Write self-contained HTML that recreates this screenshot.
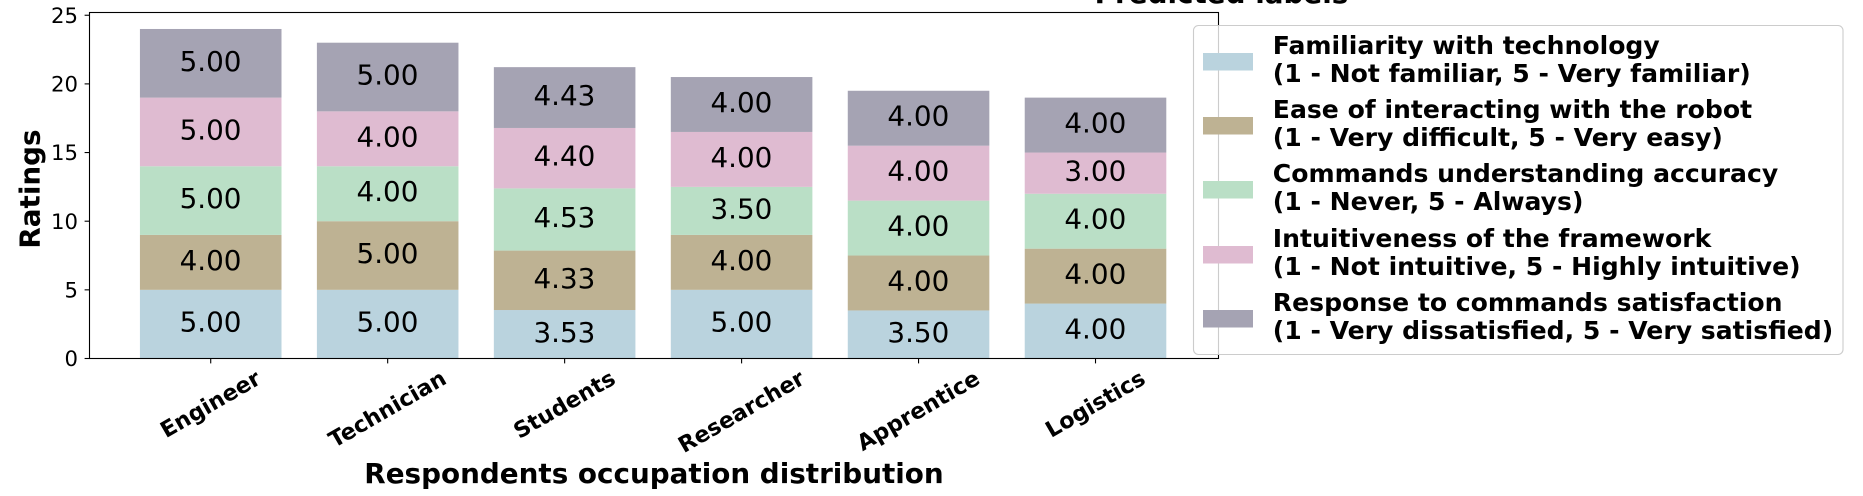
<!DOCTYPE html>
<html>
<head>
<meta charset="utf-8">
<style>
html,body{margin:0;padding:0;background:#fff;width:1863px;height:496px;overflow:hidden}
svg{display:block}
text{font-family:"DejaVu Sans","Liberation Sans",sans-serif;fill:#000}
.b{font-weight:bold}
</style>
</head>
<body>
<svg id="chart" xmlns="http://www.w3.org/2000/svg" width="1863" height="496" viewBox="0 0 1863 496"></svg>
<script>
const categories = ['Engineer','Technician','Students','Researcher','Apprentice','Logistics'];
const familiarity = [5, 5, 3.53, 5, 3.5, 4];
const ease = [4, 5, 4.33, 4, 4, 4];
const accuracy = [5, 4, 4.53, 3.5, 4, 4];
const intuitiveness = [5, 4, 4.4, 4, 4, 3];
const satisfaction = [5, 5, 4.43, 4, 4, 4];
const yTicks = [0, 5, 10, 15, 20, 25];
const seriesNames = ['familiarity','ease','accuracy','intuitiveness','satisfaction'];
const seriesColors = ['#bad3de','#beb293','#badfc6','#dfbbd1','#a5a3b3'];
const legendLine1 = ['Familiarity with technology','Ease of interacting with the robot','Commands understanding accuracy','Intuitiveness of the framework','Response to commands satisfaction'];
const legendLine2 = ['(1 - Not familiar, 5 - Very familiar)','(1 - Very difficult, 5 - Very easy)','(1 - Never, 5 - Always)','(1 - Not intuitive, 5 - Highly intuitive)','(1 - Very dissatisfied, 5 - Very satisfied)'];
const allSeries = [familiarity, ease, accuracy, intuitiveness, satisfaction];

const svg = document.getElementById('chart');
const NS = 'http://www.w3.org/2000/svg';
const axL = 89.5, axR = 1218.5, axT = 12.5, axB = 358.5;
const xMin = -0.685, xMax = categories.length - 1 + 0.695, yMin = 0, yMax = 25.2;
const xScale = v => axL + (v - xMin) / (xMax - xMin) * (axR - axL);
const yScale = v => axB - (v - yMin) / (yMax - yMin) * (axB - axT);
const bandWidth = xScale(0.8) - xScale(0);

function mk(tag, attrs, text) {
  const e = document.createElementNS(NS, tag);
  for (const k in attrs) e.setAttribute(k, attrs[k]);
  if (text !== undefined) e.textContent = text;
  svg.appendChild(e);
  return e;
}

// bars and value labels
const running = categories.map(() => 0);
allSeries.forEach((vals, s) => {
  vals.forEach((v, i) => {
    const y0 = yScale(running[i]), y1 = yScale(running[i] + v);
    const bar = mk('rect', {x: xScale(i) - bandWidth / 2, y: y1, width: bandWidth, height: y0 - y1, fill: seriesColors[s]});
    
    
    const lab = mk('text', {x: xScale(i) - 0.2, y: (y0 + y1) / 2 + 7.5, 'font-size': 27.8, 'text-anchor': 'middle'}, v.toFixed(2));
    
    
    running[i] += v;
  });
});

// axes frame
const frame = mk('rect', {x: axL, y: axT, width: axR - axL, height: axB - axT, fill: 'none', stroke: '#000', 'stroke-width': 1.1});



// y ticks
yTicks.forEach(t => {
  const y = yScale(t);
  const tk = mk('line', {x1: axL - 4.9, x2: axL, y1: y, y2: y, stroke: '#000', 'stroke-width': 1.1});
  
  
  const lb = mk('text', {x: 78, y: y + 7.6, 'font-size': 21.2, 'text-anchor': 'end'}, String(t));
  
  
});

// x ticks and rotated labels
categories.forEach((c, i) => {
  const x = xScale(i);
  const tk = mk('line', {x1: x, x2: x, y1: axB, y2: axB + 4.9, stroke: '#000', 'stroke-width': 1.1});
  
  
  const lb = mk('text', {x: 0, y: 0, class: 'b', 'font-size': 22.2, 'text-anchor': 'middle'}, c);
  
  
  const len = lb.getComputedTextLength();
  const cy = 367.6 + (len * 0.5 + 21 * 0.866) / 2;
  lb.setAttribute('transform', 'translate(' + x + ',' + cy + ') rotate(-30) translate(0,7)');
});

// axis titles
const xt = mk('text', {x: 654, y: 483, class: 'b', 'font-size': 27.8, 'text-anchor': 'middle'}, 'Respondents occupation distribution');


const yt = mk('text', {x: 0, y: 0, class: 'b', 'font-size': 27.8, 'text-anchor': 'middle', transform: 'translate(39.5,189) rotate(-90)'}, 'Ratings');



// legend
const lgTitle = mk('text', {x: 1221.5, y: 3, class: 'b', 'font-size': 27.8, 'text-anchor': 'middle'}, 'Predicted labels');


const lgBox = mk('rect', {x: 1193.5, y: 25.5, width: 649.5, height: 329, rx: 5, ry: 5, fill: '#fff', 'fill-opacity': 0.8, stroke: '#ccc', 'stroke-width': 1.1});


const lgPatchY = [53, 117, 181, 246, 310];
seriesNames.forEach((n, s) => {
  const p = mk('rect', {x: 1203, y: lgPatchY[s], width: 50, height: 17.5, fill: seriesColors[s]});
  
  
  const base = lgPatchY[s] + 1;
  const a = mk('text', {x: 1272.8, y: base, class: 'b', 'font-size': 25.1}, legendLine1[s]);
  
  
  const b = mk('text', {x: 1272.8, y: base + 28, class: 'b', 'font-size': 25.1}, legendLine2[s]);
  
  
});
</script>
</body>
</html>
